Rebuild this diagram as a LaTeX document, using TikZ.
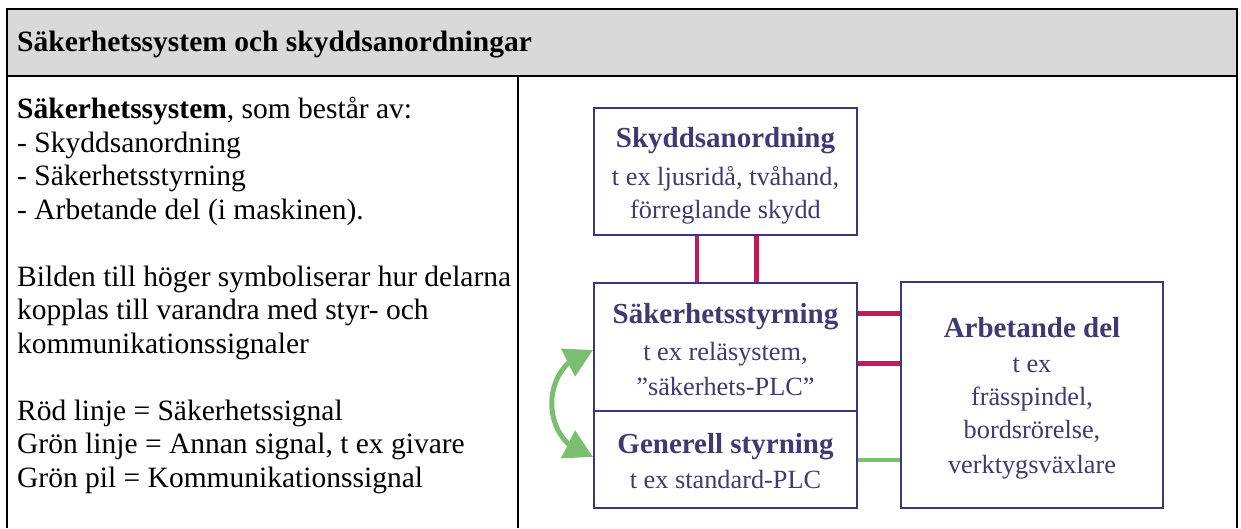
\documentclass[tikz,border=0pt]{standalone}
\usepackage{fontspec}
\setmainfont{Liberation Serif}
\usetikzlibrary{arrows.meta,bending,calc}
\definecolor{hdrgray}{RGB}{217,217,217}
\definecolor{navy}{RGB}{58,54,128}
\definecolor{navytext}{RGB}{62,58,115}
\definecolor{sigred}{RGB}{200,22,88}
\definecolor{siggreen}{RGB}{122,190,112}
\tikzset{
  frameline/.style={draw=black, line width=2.4pt},
  box/.style={draw=navy, line width=2pt, inner sep=0pt, fill=white},
  hdr/.style={font=\bfseries\fontsize{29.5}{33.5}\selectfont, anchor=base west, inner sep=0pt},
  body/.style={font=\fontsize{29.5}{33.5}\selectfont, anchor=base west, inner sep=0pt},
  dtitle/.style={font=\bfseries\fontsize{29}{33}\selectfont, text=navytext, anchor=base, inner sep=0pt},
  dtext/.style={font=\fontsize{26.3}{33}\selectfont, text=navytext, anchor=base, inner sep=0pt},
  redsig/.style={draw=sigred, line width=4.5pt},
  greensig/.style={draw=siggreen, line width=4pt},
  comm/.style={draw=siggreen, line width=5pt,
    {Triangle[length=28pt,width=30pt,flex=1]}-{Triangle[length=28pt,width=30pt,flex=1]}}
}
\begin{document}
\begin{tikzpicture}[x=1pt,y=-1pt]
\useasboundingbox (0,0) rectangle (1241,528);
% frame
\fill[hdrgray] (7,9) rectangle (1237,76);
\draw[frameline] (7,528) -- (7,9) -- (1237,9) -- (1237,528);
\draw[frameline] (7,76) -- (1237,76);
\draw[frameline] (518,76) -- (518,528);
% header
\node[hdr] (title) at (17,51) {Säkerhetssystem och skyddsanordningar};
% left text
\node[body] (l1) at (17,118.5) {\textbf{Säkerhetssystem}, som består av:};
\node[body] (l2) at (17,152) {- Skyddsanordning};
\node[body] (l3) at (17,185.5) {- Säkerhetsstyrning};
\node[body] (l4) at (17,219) {- Arbetande del (i maskinen).};
\node[body] (l5) at (17,286) {Bilden till höger symboliserar hur delarna};
\node[body] (l6) at (17,319.5) {kopplas till varandra med styr- och};
\node[body] (l7) at (17,353) {kommunikationssignaler};
\node[body] (l8) at (17,420) {Röd linje = Säkerhetssignal};
\node[body] (l9) at (17,453.5) {Grön linje = Annan signal, t ex givare};
\node[body] (l10) at (17,487) {Grön pil = Kommunikationssignal};
% boxes
\node[box, minimum width=263pt, minimum height=127pt] (skydd) at (725.5,171.5) {};
\node[box, minimum width=263pt, minimum height=128pt] (sak) at (725.5,347) {};
\node[box, minimum width=263pt, minimum height=97pt] (gen) at (725.5,459.5) {};
\node[box, minimum width=262pt, minimum height=226pt] (arb) at (1032,395) {};
% box texts
\node[dtitle] (t1) at (725.5,147) {Skyddsanordning};
\node[dtext] (t2) at (725.5,185) {t ex ljusridå, tvåhand,};
\node[dtext] (t3) at (725.5,218) {förreglande skydd};
\node[dtitle] (t4) at (725.5,323) {Säkerhetsstyrning};
\node[dtext] (t5) at (725.5,360) {t ex reläsystem,};
\node[dtext] (t6) at (725.5,395) {”säkerhets-PLC”};
\node[dtitle] (t7) at (725.5,453) {Generell styrning};
\node[dtext] (t8) at (725.5,488) {t ex standard-PLC};
\node[dtitle] (t9) at (1032,337) {Arbetande del};
\node[dtext] (t10) at (1032,372) {t ex};
\node[dtext] (t11) at (1032,405) {frässpindel,};
\node[dtext] (t12) at (1032,438) {bordsrörelse,};
\node[dtext] (t13) at (1032,473) {verktygsväxlare};
% red vertical signals
\coordinate (v1) at ($(skydd.south west)!0.392!(skydd.south east)$);
\coordinate (v2) at ($(skydd.south west)!0.616!(skydd.south east)$);
\draw[redsig] (v1) -- (v1 |- sak.north);
\draw[redsig] (v2) -- (v2 |- sak.north);
% red horizontal signals
\coordinate (h1) at ($(sak.north east)!0.242!(sak.south east)$);
\coordinate (h2) at ($(sak.north east)!0.625!(sak.south east)$);
\draw[redsig] (h1) -- (h1 -| arb.west);
\draw[redsig] (h2) -- (h2 -| arb.west);
% green signal
\draw[greensig] (gen.east) -- (gen.east -| arb.west);
% communication arrow
\coordinate (ca) at ($(sak.north west)!0.523!(sak.south west)$);
\coordinate (cb) at ($(gen.north west)!0.474!(gen.south west)$);
\draw[comm] (ca) .. controls +(-55,12.6) and +(-55,-12.6) .. (cb);
\end{tikzpicture}
\end{document}
